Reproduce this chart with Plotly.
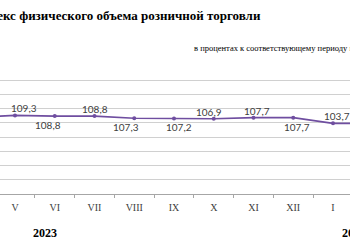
import plotly.graph_objects as go

months = ["IV", "V", "VI", "VII", "VIII", "IX", "X", "XI", "XII", "I", "II"]
values = [107.9, 109.3, 108.8, 108.8, 107.3, 107.2, 106.9, 107.7, 107.7, 103.7, 103.7]
show_label = [False, True, True, True, True, True, True, True, True, True, False]
label_above = [True, True, False, True, False, False, True, True, False, True, True]
label_dx = [0, 9, -7, 0, -8, 5, -5, 3, 4, 4, 0]

title_text = "Индекс физического объема розничной торговли"
subtitle_text = "в процентах к соответствующему периоду предыдущего года"
years = ["2023", "2024"]

W, H = 350, 250
L, R, T, B = 0, 0, 66, 56
ph = H - T - B

def py(ypix):
    return (H - B - ypix) / ph

def px(xpix):
    return (xpix - L) / (W - L - R)

fig = go.Figure()
fig.add_trace(go.Scatter(
    x=months, y=values,
    mode="lines+markers",
    line=dict(color="#6f4ea0", width=1.6),
    marker=dict(color="#6f4ea0", size=4),
    hoverinfo="skip",
))

annotations = []
for m, v, s, up, dx in zip(months, values, show_label, label_above, label_dx):
    if not s:
        continue
    annotations.append(dict(
        x=m, y=v, xref="x", yref="y",
        text=f"{v:.1f}".replace(".", ","),
        showarrow=False, xanchor="center", yanchor="middle",
        xshift=dx, yshift=7 if up else -9,
        font=dict(family="Lato, Liberation Sans, sans-serif", size=10, color="#404040"),
    ))

step = 39.75
r0 = 1 - 15 / step
r1 = r0 + (W - L - R) / step

annotations += [
    dict(text="<b>" + title_text + "</b>", xref="paper", yref="paper",
         x=px(263), y=py(15), xanchor="right", yanchor="middle", showarrow=False,
         font=dict(family="Liberation Serif, serif", size=13, color="#000000")),
    dict(text=subtitle_text, xref="paper", yref="paper",
         x=px(192), y=py(47.5), xanchor="left", yanchor="middle", showarrow=False,
         font=dict(family="Liberation Serif, serif", size=8.5, color="#000000")),
    dict(text="<b>" + years[0] + "</b>", xref="paper", yref="paper",
         x=px(44.5), y=py(233), xanchor="center", yanchor="middle", showarrow=False,
         font=dict(family="Liberation Serif, serif", size=12, color="#000000")),
    dict(text="<b>" + years[1] + "</b>", xref="paper", yref="paper",
         x=px(340), y=py(233), xanchor="left", yanchor="middle", showarrow=False,
         font=dict(family="Liberation Serif, serif", size=12, color="#000000")),
]

fig.update_layout(
    width=W, height=H,
    margin=dict(l=L, r=R, t=T, b=B),
    paper_bgcolor="white", plot_bgcolor="white",
    showlegend=False,
    xaxis=dict(
        type="category", range=[r0, r1],
        showgrid=False, showline=True, linecolor="#a6a6a6", linewidth=1,
        ticks="outside", tickson="boundaries", ticklen=3, tickcolor="#a6a6a6",
        ticklabelstandoff=4,
        tickfont=dict(family="Liberation Serif, serif", size=10, color="#404040"),
        zeroline=False,
    ),
    yaxis=dict(
        range=[54, 144.05], tick0=54, dtick=10,
        showgrid=True, gridcolor="#d0d0d0", gridwidth=1,
        showticklabels=False, zeroline=False, showline=False, ticks="",
    ),
    annotations=annotations,
)

fig.write_html("out.html")
